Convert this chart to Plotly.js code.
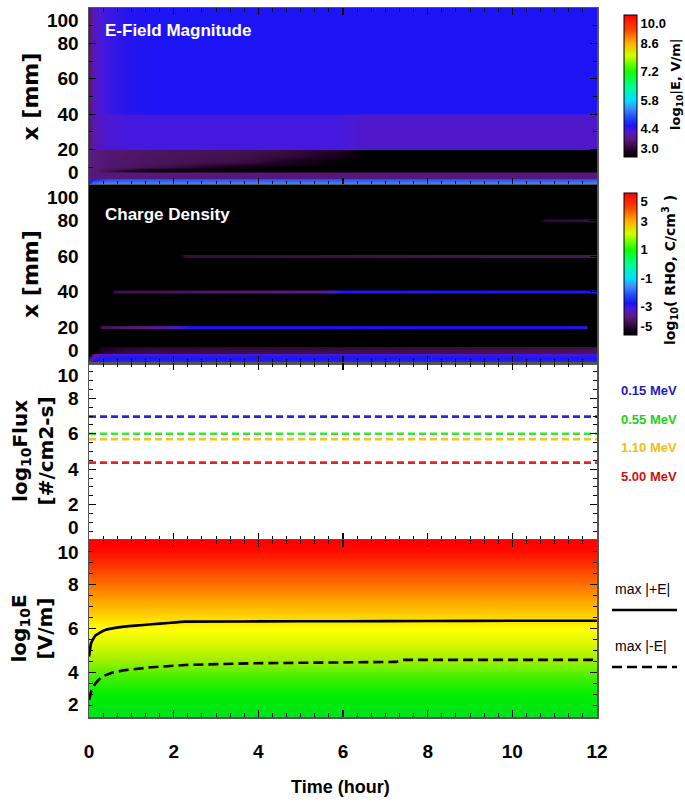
<!DOCTYPE html>
<html><head><meta charset="utf-8">
<script src="https://cdn.plot.ly/plotly-3.0.1.min.js"></script>
<style>html,body{margin:0;padding:0;background:#fff}#chart{width:685px;height:802px}</style>
</head><body><div id="chart"></div>
<script>
// ================= DATA =================
const timeTicks = [0, 2, 4, 6, 8, 10, 12];

// Panel 1 : E-field magnitude, log10|E| (V/m) on a time x position grid
const eTime = [0, 0.1, 0.4, 0.9, 1.5, 2.5, 3.8, 5.0, 5.9, 6.5, 8, 10, 12];
const eX = [0, 1.5, 3.4, 4.0, 7.0, 7.8, 10, 13, 16.5, 19.6, 20.4, 30, 39.6, 40.4, 70, 100];
const eLog = [
  [4.8, 5.3, 5.45, 5.45, 5.45, 5.45, 5.45, 5.45, 5.45, 5.45, 5.45, 5.45, 5.45],
  [4.5, 5.1, 5.25, 5.25, 5.25, 5.25, 5.25, 5.25, 5.25, 5.25, 5.25, 5.25, 5.25],
  [4.0, 4.6, 4.9, 5.0, 5.0, 5.0, 5.0, 5.0, 5.0, 5.0, 5.0, 5.0, 5.0],
  [3.85, 3.85, 3.85, 3.85, 3.85, 3.85, 3.85, 3.85, 3.85, 3.85, 3.85, 3.85, 3.85],
  [3.85, 3.85, 3.85, 3.85, 3.85, 3.85, 3.85, 3.85, 3.85, 3.85, 3.85, 3.85, 3.85],
  [3.9, 3.85, 3.6, 3.3, 3.05, 3.0, 3.0, 3.0, 3.0, 3.0, 3.0, 3.0, 3.0],
  [3.9, 3.88, 3.8, 3.72, 3.6, 3.4, 3.1, 3.0, 3.0, 3.0, 3.0, 3.0, 3.0],
  [3.9, 3.88, 3.8, 3.75, 3.7, 3.62, 3.5, 3.2, 3.0, 3.0, 3.0, 3.0, 3.0],
  [3.9, 3.88, 3.8, 3.75, 3.7, 3.65, 3.55, 3.4, 3.2, 3.0, 3.0, 3.0, 3.0],
  [3.92, 3.9, 3.82, 3.77, 3.72, 3.67, 3.6, 3.48, 3.3, 3.0, 3.0, 3.0, 3.0],
  [3.75, 4.1, 4.25, 4.32, 4.32, 4.32, 4.32, 4.32, 4.32, 4.22, 4.22, 4.22, 4.22],
  [3.75, 4.1, 4.25, 4.32, 4.32, 4.32, 4.32, 4.32, 4.32, 4.22, 4.22, 4.22, 4.22],
  [3.75, 4.1, 4.25, 4.32, 4.32, 4.32, 4.32, 4.32, 4.32, 4.22, 4.22, 4.22, 4.22],
  [3.75, 4.15, 4.35, 4.5, 4.55, 4.55, 4.55, 4.55, 4.55, 4.55, 4.55, 4.55, 4.55],
  [3.75, 4.15, 4.35, 4.5, 4.55, 4.55, 4.55, 4.55, 4.55, 4.55, 4.55, 4.55, 4.55],
  [3.75, 4.15, 4.35, 4.5, 4.55, 4.55, 4.55, 4.55, 4.55, 4.55, 4.55, 4.55, 4.55]
];
const eCbTicks = [3.0, 4.4, 5.8, 7.2, 8.6, 10.0];
const eCbText = ['3.0', '4.4', '5.8', '7.2', '8.6', '10.0'];

// Panel 2 : charge density, log10(RHO) (C/cm3)
const rhoBandT = [0, 0.1, 0.3, 1, 3, 6, 9, 12];
const rhoBandX = [0, 2, 5.0, 5.8, 8.8, 9.8, 100];
const rhoBand = [
  [-3.3, -2.65, -2.55, -2.55, -2.55, -2.55, -2.55, -2.55],
  [-4.0, -2.95, -2.75, -2.7, -2.7, -2.7, -2.7, -2.7],
  [-5.3, -3.9, -3.2, -3.1, -3.1, -3.1, -3.1, -3.1],
  [-5.3, -4.9, -4.4, -4.25, -4.2, -4.15, -4.1, -4.0],
  [-5.3, -5.3, -4.7, -4.45, -4.4, -4.35, -4.3, -4.2],
  [-5.3, -5.3, -5.3, -5.3, -5.3, -5.3, -5.3, -5.3],
  [-5.3, -5.3, -5.3, -5.3, -5.3, -5.3, -5.3, -5.3]
];
const rhoLineX = [20, 40, 60, 80];
const rhoLineT = [
  [0.2, 0.3, 1.0, 1.8, 2.4, 11.7, 11.8],
  [0.5, 0.6, 3.0, 5.4, 6.0, 12],
  [2.1, 2.25, 7, 12],
  [10.6, 10.75, 12]
];
const rhoLineV = [
  [-5.3, -4.1, -3.8, -3.5, -2.8, -2.8, -5.3],
  [-5.3, -4.2, -3.9, -3.65, -2.85, -2.8],
  [-5.3, -4.3, -4.15, -4.0],
  [-5.3, -4.4, -4.3]
];
const rhoCbTicks = [-5, -3, -1, 1, 3, 5];
const rhoCbText = ['-5', '-3', '-1', '1', '3', '5'];

// Panel 3 : particle flux, log10 (#/cm2-s)
const fluxEnergy = ['0.15 MeV', '0.55 MeV', '1.10 MeV', '5.00 MeV'];
const fluxLog = [6.97, 6.0, 5.7, 4.37];
const fluxTime = [0, 12];

// Panel 4 : max |E| curves, log10 E (V/m)
const maxPosT = [0, 0.05, 0.14, 0.25, 0.38, 0.69, 1.09, 1.48, 1.87, 2.27, 4, 6, 8, 10, 12];
const maxPos  = [4.73, 5.34, 5.66, 5.80, 5.93, 6.05, 6.13, 6.19, 6.25, 6.31, 6.32, 6.33, 6.34, 6.35, 6.35];
const maxNegT = [0, 0.05, 0.14, 0.3, 0.54, 0.85, 1.48, 2.27, 3.85, 5.43, 7.25, 7.4, 9, 12];
const maxNeg  = [2.77, 3.14, 3.49, 3.82, 4.0, 4.12, 4.25, 4.35, 4.43, 4.47, 4.49, 4.58, 4.58, 4.58];
const bgLevels = [1.5, 2, 2.5, 3, 3.5, 4, 4.5, 5, 5.5, 6, 6.5, 7, 7.5, 8, 8.5, 9, 9.5, 10, 10.5];
const bgTime = [0, 12];

// tick labels
const p12Ticks = [0, 20, 40, 60, 80, 100], p12Text = ['0', '20', '40', '60', '80', '100'];
const p3Ticks = [0, 2, 4, 6, 8, 10], p3Text = ['0', '2', '4', '6', '8', '10'];
const p4Ticks = [2, 4, 6, 8, 10], p4Text = ['2', '4', '6', '8', '10'];

// ================= STYLE =================
const SANS = "'Liberation Sans', Arial, sans-serif";
const WIDE = "'DejaVu Sans', 'Liberation Sans', sans-serif";
const tickFont = {family: SANS, size: 19, color: '#000', weight: 'bold'};
const rainbow = [
  [0, '#000000'], [0.0429, '#200028'], [0.0857, '#42124e'], [0.1286, '#5a1a84'],
  [0.1571, '#5a16b0'], [0.1857, '#4818dc'], [0.2214, '#1c14f4'], [0.2857, '#2050ff'],
  [0.3429, '#3c90ff'], [0.4, '#00e0ff'], [0.5, '#00ff90'], [0.6, '#10ff00'],
  [0.7143, '#d0ff00'], [0.8, '#ffb000'], [0.9, '#ff4000'], [1, '#ff0000']
];
const greenRed = [
  [0, '#00e020'], [0.125, '#00f000'], [0.225, '#40f000'], [0.325, '#a0f000'],
  [0.425, '#e0f800'], [0.5, '#ffff00'], [0.575, '#ffd000'], [0.6625, '#ffa000'],
  [0.75, '#ff7000'], [0.85, '#ff3800'], [0.9375, '#ff0c00'], [1, '#ff0000']
];
const fluxColors = ['#2626e6', '#36e636', '#f2c428', '#e22424'];
const fluxTextColors = ['#1c1cb8', '#22d022', '#eebe10', '#d01010'];

const W = 508, H = 709, L = 89, T = 8;
const px = v => (v - L) / W;          // pixel -> paper x
const py = v => (T + H - v) / H;      // pixel -> paper y

function nudge(arr) {   // keep end labels inside their panel
  return arr.map((t, i) => i === 0 ? t + '<br>\u00a0' : (i === arr.length - 1 ? '\u00a0<br>' + t : t));
}

function yAx(domain, range, vals, text, minorDtick, anchor) {
  return {domain, range, anchor, tickmode: 'array', tickvals: vals, ticktext: nudge(text),
    ticks: 'inside', ticklen: 7, tickwidth: 1.2, tickcolor: '#000',
    showline: true, linecolor: '#555', linewidth: 1.5, mirror: 'ticks',
    minor: {tickmode: 'linear', tick0: 0, dtick: minorDtick, ticks: 'inside', ticklen: 4, tickwidth: 1, tickcolor: '#000'},
    tickfont: tickFont, showgrid: false, zeroline: false, fixedrange: true, ticklabelstandoff: 5,
    ticklabeloverflow: 'allow'};
}
function xAx(anchor, show) {
  return {domain: [0, 1], range: [0, 12], anchor, tickmode: 'array', tickvals: timeTicks,
    ticks: 'inside', ticklen: 7, tickwidth: 1.2, tickcolor: '#000',
    showline: true, linecolor: '#555', linewidth: 1.5, mirror: 'ticks',
    minor: {tickmode: 'linear', tick0: 0, dtick: 2 / 6, ticks: 'inside', ticklen: 4, tickwidth: 1, tickcolor: '#000'},
    showticklabels: show, tickfont: tickFont, showgrid: false, zeroline: false, fixedrange: true,
    ticklabelstandoff: 17, matches: anchor === 'y' ? undefined : 'x'};
}

const dom1 = [py(185), 1], dom2 = [py(363), py(185)], dom3 = [py(540), py(363)], dom4 = [0, py(540)];
const cbFont = {family: SANS, size: 13, weight: 'bold', color: '#000'};
function cbar(yc, vals, text) {
  return {x: px(624), xanchor: 'left', xpad: 0, ypad: 0, thickness: 13, len: 142 / H,
    y: py(yc), yanchor: 'middle', tickmode: 'array', tickvals: vals, ticktext: nudge(text),
    ticks: '', outlinewidth: 1, outlinecolor: '#000', tickfont: cbFont, ticklabeloverflow: 'allow'};
}

const traces = [];
// Panel 1 heatmap
traces.push({type: 'heatmap', x: eTime, y: eX, z: eLog, xaxis: 'x', yaxis: 'y',
  colorscale: rainbow, zmin: 3, zmax: 10, zsmooth: 'best', hoverinfo: 'skip',
  colorbar: cbar(86, eCbTicks, eCbText)});
// Panel 2 : bottom bands
traces.push({type: 'heatmap', x: rhoBandT, y: rhoBandX, z: rhoBand, xaxis: 'x2', yaxis: 'y2',
  colorscale: rainbow, zmin: -5, zmax: 5, zsmooth: 'best', hoverinfo: 'skip',
  colorbar: cbar(264, rhoCbTicks, rhoCbText)});
// Panel 2 : thin charge layers
rhoLineX.forEach((xc, i) => {
  traces.push({type: 'heatmap', x: rhoLineT[i], y: [xc - 0.35, xc + 0.35],
    z: [rhoLineV[i], rhoLineV[i]], xaxis: 'x2', yaxis: 'y2',
    colorscale: rainbow, zmin: -5, zmax: 5, zsmooth: 'best', showscale: false, hoverinfo: 'skip'});
});
// Panel 3 : flux lines
fluxLog.forEach((v, i) => {
  traces.push({type: 'scatter', mode: 'lines', x: fluxTime, y: fluxTime.map(() => v),
    xaxis: 'x3', yaxis: 'y3', line: {color: fluxColors[i], width: 2.6, dash: '7px,4px'},
    hoverinfo: 'skip', showlegend: false});
});
// Panel 4 : background gradient + curves
traces.push({type: 'heatmap', x: bgTime, y: bgLevels, z: bgLevels.map(v => [v, v]),
  xaxis: 'x4', yaxis: 'y4', colorscale: greenRed, zmin: 2, zmax: 10, zsmooth: 'best',
  showscale: false, hoverinfo: 'skip'});
traces.push({type: 'scatter', mode: 'lines', x: maxPosT, y: maxPos, xaxis: 'x4', yaxis: 'y4',
  line: {color: '#000', width: 2.6, shape: 'spline', smoothing: 0.4}, hoverinfo: 'skip', showlegend: false});
traces.push({type: 'scatter', mode: 'lines', x: maxNegT, y: maxNeg, xaxis: 'x4', yaxis: 'y4',
  line: {color: '#000', width: 2.6, dash: '10px,5px'}, hoverinfo: 'skip', showlegend: false});

const ann = [];
const bold = (size, color, fam) => ({family: fam || SANS, size, color: color || '#000', weight: 'bold'});
ann.push({text: 'E-Field Magnitude', xref: 'paper', yref: 'paper', x: px(103), y: py(31),
  xanchor: 'left', yanchor: 'middle', showarrow: false, font: bold(17, '#fff')});
ann.push({text: 'Charge Density', xref: 'paper', yref: 'paper', x: px(103), y: py(214),
  xanchor: 'left', yanchor: 'middle', showarrow: false, font: bold(17, '#fff')});
// y-axis titles
ann.push({text: 'x [mm]', xref: 'paper', yref: 'y domain', x: px(30), y: 0.5, textangle: -90,
  xanchor: 'center', yanchor: 'middle', showarrow: false, font: bold(22, '#000', WIDE)});
ann.push({text: 'x [mm]', xref: 'paper', yref: 'y2 domain', x: px(30), y: 0.5, textangle: -90,
  xanchor: 'center', yanchor: 'middle', showarrow: false, font: bold(22, '#000', WIDE)});
ann.push({text: 'log<sub>10</sub>Flux<br>[#/cm2-s]', xref: 'paper', yref: 'y3 domain', x: px(32), y: 0.5,
  textangle: -90, xanchor: 'center', yanchor: 'middle', showarrow: false, font: bold(20, '#000', WIDE)});
ann.push({text: 'log<sub>10</sub>E<br>[V/m]', xref: 'paper', yref: 'y4 domain', x: px(31), y: 0.5,
  textangle: -90, xanchor: 'center', yanchor: 'middle', showarrow: false, font: bold(20, '#000', WIDE)});
ann.push({text: 'Time (hour)', xref: 'paper', yref: 'paper', x: px(340), y: py(787),
  xanchor: 'center', yanchor: 'middle', showarrow: false, font: bold(18)});
// colour bar titles
ann.push({text: 'log<sub>10</sub>|E, V/m|', xref: 'paper', yref: 'paper', x: px(676), y: py(84),
  textangle: -90, xanchor: 'center', yanchor: 'middle', showarrow: false, font: bold(13, '#000', WIDE)});
ann.push({text: 'log<sub>10</sub>( RHO, C/cm<sup>3</sup> )', xref: 'paper', yref: 'paper', x: px(670), y: py(270),
  textangle: -90, xanchor: 'center', yanchor: 'middle', showarrow: false, font: bold(14, '#000', WIDE)});
// flux legend
const legY = [390, 419, 448, 476];
fluxEnergy.forEach((e, i) => {
  ann.push({text: e, xref: 'paper', yref: 'paper', x: px(619), y: py(legY[i]), xanchor: 'left',
    yanchor: 'middle', showarrow: false, font: bold(13, fluxTextColors[i])});
});
// E legend
ann.push({text: 'max |+E|', xref: 'paper', yref: 'paper', x: px(613), y: py(589), xanchor: 'left',
  yanchor: 'middle', showarrow: false, font: {family: SANS, size: 14, color: '#000'}});
ann.push({text: 'max |-E|', xref: 'paper', yref: 'paper', x: px(613), y: py(646), xanchor: 'left',
  yanchor: 'middle', showarrow: false, font: {family: SANS, size: 14, color: '#000'}});
const shapes = [
  {type: 'line', xref: 'paper', yref: 'paper', x0: px(612), x1: px(677), y0: py(610), y1: py(610),
    line: {color: '#000', width: 2.6}},
  {type: 'line', xref: 'paper', yref: 'paper', x0: px(612), x1: px(677), y0: py(667), y1: py(667),
    line: {color: '#000', width: 2.6, dash: '10px,5px'}}
];

const layout = {
  width: 685, height: 802, margin: {l: L, r: 685 - L - W, t: T, b: 802 - T - H, pad: 0},
  paper_bgcolor: '#fff', plot_bgcolor: '#fff', showlegend: false, hovermode: false,
  xaxis: xAx('y', false), xaxis2: xAx('y2', false), xaxis3: xAx('y3', false), xaxis4: xAx('y4', true),
  yaxis: yAx(dom1, [0, 100], p12Ticks, p12Text, 10, 'x'),
  yaxis2: yAx(dom2, [0, 100], p12Ticks, p12Text, 10, 'x2'),
  yaxis3: yAx(dom3, [0, 10], p3Ticks, p3Text, 0.5, 'x3'),
  yaxis4: yAx(dom4, [2, 10], p4Ticks, p4Text, 0.5, 'x4'),
  annotations: ann, shapes
};
Plotly.newPlot('chart', traces, layout, {staticPlot: true, displayModeBar: false});
</script></body></html>
